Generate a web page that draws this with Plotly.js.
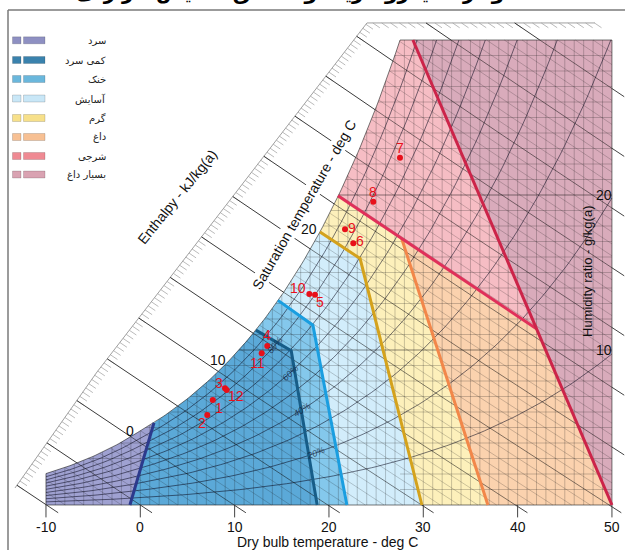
<!DOCTYPE html>
<html><head><meta charset="utf-8">
<script src="https://cdn.plot.ly/plotly-3.0.1.min.js"></script>
<style>html,body{margin:0;padding:0;background:#fff}#chart{width:625px;height:550px}</style>
</head><body><div id="chart"></div>
<script>
// ---------- values ----------
const dryBulbTicks = [-10, 0, 10, 20, 30, 40, 50];
const humidityTicks = [10, 20];
const saturationTempLabels = [0, 10, 20];
const saturationLabelShift = [[-4, 0], [-7, -5], [-10, -14]];
const rhLabelValues = [20, 40, 60, 80];
const rhLabelTemps = [18.6, 17.1, 15.9, 14.3];
const rhLabelAngles = [-22, -33, -43, -50];
const tMin = -10, tMax = 50, wMax = 30;
const atmPressureKPa = 80;               // chart drawn for high altitude
const satTableStartT = -10;               // saturation vapour pressure table, 1 degC steps
const satPressureKPa = [0.2599,0.2839,0.3100,0.3382,0.3687,0.4017,0.4375,0.4761,0.5177,0.5627,
  0.6112,0.6571,0.7060,0.7581,0.8135,0.8725,0.9353,1.0020,1.0729,1.1481,
  1.2280,1.3128,1.4026,1.4979,1.5987,1.7055,1.8185,1.9380,2.0643,2.1978,
  2.3388,2.4877,2.6448,2.8104,2.9851,3.1692,3.3631,3.5673,3.7822,4.0083,
  4.2467,4.4955,4.7578,5.0335,5.3229,5.6267,5.9453,6.2795,6.6298,6.9969,
  7.3814,7.7840,8.2054,8.6463,9.1075,9.5898,10.094,10.620,11.171,11.745,12.344];
const enthalpyScaleT = [-13.28, -4.59, 24.03, 48.2];
const enthalpyScaleW = [1.10, 8.58, 31.1, 31.1];

const zoneNames = ['سرد', 'کمی سرد', 'خنک', 'آسایش', 'گرم', 'داغ', 'شرجی', 'بسیار داغ'];
const zoneFills = ['#9fa1d1', '#5ba9d8', '#84c8ec', '#d2edfb', '#fdf0bb', '#fbd2ae', '#f6bdc4', '#d9abbb'];
const zoneSwatches = ['#8e90c2', '#3a82ad', '#6ab7dc', '#c9e7f7', '#f7e08a', '#f7c093', '#ef8a93', '#d9a3b2'];

// zone boundaries, listed from the saturation / top end down to the bottom
const coldBoundT = [1.45, -1.1],            coldBoundW = [5.3, 0];
const slightlyColdBoundT = [12.25, 16.0, 18.75], slightlyColdBoundW = [11.28, 9.95, 0];
const coolBoundT = [14.6, 18.3, 21.9],      coolBoundW = [13.2, 11.6, 0];
const comfortBoundT = [19.05, 23.3, 29.85], comfortBoundW = [17.62, 15.9, 0];
const warmBoundT = [27.7, 36.85],           warmBoundW = [17.2, 0];
const muggyBoundT = [20.95, 42.0],          muggyBoundW = [19.95, 11.37];
const veryHotBoundT = [28.9, 50],           veryHotBoundW = [30, 0];
const boundaryColors = ['#2c3a8c', '#175d88', '#1a9ee0', '#d4a21c', '#f2874a', '#e0305a', '#cc2449'];

const pointLabels = ['1','2','3','4','5','6','7','8','9','10','11','12'];
const pointT = [7.68, 7.10, 8.98, 13.46, 18.52, 22.58, 27.53, 24.70, 21.70, 17.92, 12.87, 9.16];
const pointW = [6.77, 5.81, 7.53, 10.26, 13.57, 16.88, 22.41, 19.57, 17.79, 13.61, 9.79, 7.42];
const pointLabelDx = [6, -5, -6, 0, 5, 7, 0, 0, 7, -11, -4, 9];
const pointLabelDy = [8, 8, -5, -11, 7, -2, -10, -10, -1, -6, 10, 6];

// ---------- geometry helpers ----------
const PX_T = 9.433, PX_W = 15.5, X0 = 140.3, Y0 = 505, WPX = 625, HPX = 550;
const xr = [(0 - X0) / PX_T, (WPX - X0) / PX_T];
const yr = [(Y0 - HPX) / PX_W, Y0 / PX_W];
function psat(T) {
  let i = Math.floor(T - satTableStartT);
  i = Math.min(Math.max(i, 0), satPressureKPa.length - 2);
  const f = T - satTableStartT - i;
  return Math.exp(Math.log(satPressureKPa[i]) * (1 - f) + Math.log(satPressureKPa[i + 1]) * f);
}
function wRH(T, rh) { const p = rh * psat(T); return 622 * p / (atmPressureKPa - p); }
function wsat(T) { return wRH(T, 1); }
function hOf(T, w) { return 1.006 * T + w * (2501 + 1.86 * T) / 1000; }
function wOnH(h, T) { return (h - 1.006 * T) * 1000 / (2501 + 1.86 * T); }
function bisect(f, a, b) {
  let fa = f(a);
  for (let k = 0; k < 60; k++) { const m = (a + b) / 2, fm = f(m); if ((fm > 0) === (fa > 0)) { a = m; fa = fm; } else b = m; }
  return (a + b) / 2;
}
const tTop = bisect(T => wsat(T) - wMax, tMin, tMax);
function tSatW(w) { return bisect(T => wsat(T) - w, tMin, tTop); }
function tSatH(h) { return bisect(T => hOf(T, wsat(T)) - h, tMin, tTop); }
function satSeg(a, b) {
  const pts = []; const n = Math.max(2, Math.ceil(Math.abs(b - a) / 0.25));
  for (let i = 0; i <= n; i++) { const T = a + (b - a) * i / n; pts.push([T, wsat(T)]); }
  return pts;
}
const zip = (T, W) => T.map((t, i) => [t, W[i]]);

const traces = [];
function addPoly(pts, color) {
  traces.push({type: 'scatter', mode: 'lines', x: pts.map(p => p[0]), y: pts.map(p => p[1]),
    fill: 'toself', fillcolor: color, line: {width: 0, color: color}, hoverinfo: 'skip', showlegend: false});
}
function multiLine(list, color, width) {
  const x = [], y = [];
  list.forEach(pts => { pts.forEach(p => { x.push(p[0]); y.push(p[1]); }); x.push(null); y.push(null); });
  traces.push({type: 'scatter', mode: 'lines', x, y, line: {color, width}, hoverinfo: 'skip', showlegend: false, connectgaps: false});
}

// ---------- zones ----------
const bLeft = [[tMin, wsat(tMin)], [tMin, 0]];
const bCold = zip(coldBoundT, coldBoundW);
const bSC = zip(slightlyColdBoundT, slightlyColdBoundW);
const bCool = zip(coolBoundT, coolBoundW);
const bComf = zip(comfortBoundT, comfortBoundW);
const bWarm = zip(warmBoundT, warmBoundW);
const bMug = zip(muggyBoundT, muggyBoundW);
const bVH = zip(veryHotBoundT, veryHotBoundW);
const bWarmRight = [bMug[0], bWarm[0], bWarm[1]];
function zonePoly(L, R) { return [...R.slice().reverse(), ...satSeg(R[0][0], L[0][0]), ...L]; }
addPoly(zonePoly(bLeft, bCold), zoneFills[0]);
addPoly(zonePoly(bCold, bSC), zoneFills[1]);
addPoly(zonePoly(bSC, bCool), zoneFills[2]);
addPoly(zonePoly(bCool, bComf), zoneFills[3]);
addPoly(zonePoly(bComf, bWarmRight), zoneFills[4]);
addPoly([bWarm[1], bVH[1], bMug[1], bWarm[0]], zoneFills[5]);
addPoly([bMug[0], ...satSeg(bMug[0][0], tTop), bVH[0], bMug[1]], zoneFills[6]);
addPoly([bVH[0], [tMax, wMax], bVH[1]], zoneFills[7]);

// ---------- grid ----------
const grid = [];
for (let T = tMin + 1; T < tMax; T++) grid.push([[T, 0], [T, T < tTop ? wsat(T) : wMax]]);
for (let w = 1; w < wMax; w++) grid.push([[tSatW(w), w], [tMax, w]]);
multiLine(grid, 'rgba(20,20,20,0.33)', 0.7);

function hLine(h) {
  let T0, w0;
  const hLeft = hOf(tMin, wsat(tMin)), hTopv = hOf(tTop, wMax);
  if (h <= hLeft) { T0 = tMin; w0 = wOnH(h, tMin); if (w0 < 0) return null; }
  else if (h <= hTopv) { T0 = tSatH(h); w0 = wsat(T0); }
  else { T0 = (h - wMax * 2.501) / (1.006 + wMax * 0.00186); w0 = wMax; }
  let T1, w1;
  if (h / 1.006 <= tMax) { T1 = h / 1.006; w1 = 0; } else { T1 = tMax; w1 = wOnH(h, tMax); }
  if (w1 > wMax || T0 >= T1) return null;
  const Tm = (T0 + T1) / 2;
  return [[T0, w0], [Tm, wOnH(h, Tm)], [T1, w1]];
}
const hThin = [], hDark = [];
for (let h = -10; h <= 128; h += 2) { const l = hLine(h); if (!l) continue; (h % 10 === 0 ? hDark : hThin).push(l); }
multiLine(hThin, 'rgba(20,20,20,0.30)', 0.7);

// RH curves
const rhCurves = [];
for (let k = 1; k <= 9; k++) {
  const rh = k / 10, pts = [];
  let prev = tMin;
  for (let T = tMin; T <= tMax + 1e-9; T += 0.5) {
    const w = wRH(T, rh);
    if (w > wMax) { const Tc = bisect(t => wRH(t, rh) - wMax, prev, T); pts.push([Tc, wMax]); break; }
    pts.push([T, w]); prev = T;
  }
  rhCurves.push(pts);
}
multiLine(rhCurves, 'rgba(10,10,30,0.55)', 1);
multiLine(hDark, 'rgba(10,10,10,0.5)', 1);
multiLine(humidityTicks.map(w => [[tSatW(w), w], [tMax, w]]), 'rgba(10,10,10,0.35)', 0.8);

// ---------- enthalpy scale ----------
const scalePts = zip(enthalpyScaleT, enthalpyScaleW);
function scalePoint(h) {
  for (let s = 0; s < scalePts.length - 1; s++) {
    const A = scalePts[s], B = scalePts[s + 1];
    const hA = hOf(A[0], A[1]), hB = hOf(B[0], B[1]);
    if ((h - hA) * (h - hB) <= 0) {
      const u = bisect(u => hOf(A[0] + (B[0] - A[0]) * u, A[1] + (B[1] - A[1]) * u) - h, 0, 1);
      return [A[0] + (B[0] - A[0]) * u, A[1] + (B[1] - A[1]) * u];
    }
  }
  return null;
}
const hatches = [], longLines = [], extTicks = [];
for (let h = -10; h <= 130; h++) {
  const p = scalePoint(h); if (!p) continue;
  const T2 = p[0] + 0.75;
  hatches.push([p, [T2, wOnH(h, T2)]]);
  if (h % 10 === 0) { const l = hLine(h); if (l && l[0][0] > p[0]) longLines.push([p, l[0]]); }
}
multiLine(hatches, '#a8a8a8', 0.8);
multiLine([scalePts], '#a0a0a0', 1);
multiLine(longLines, '#3a3a3a', 1);
for (let h = -10; h <= 50; h += 10) { const T0 = h / 1.006; const T1 = (1000 * h + 1250.5) / 1005.07; extTicks.push([[T0, 0], [T1, -0.5]]); }
for (let h = 60; h <= 120; h += 10) extTicks.push([[tMax, wOnH(h, tMax)], [tMax + 1.3, wOnH(h, tMax + 1.3)]]);
dryBulbTicks.forEach(T => extTicks.push([[T, 0], [T, -0.8]]));
multiLine(extTicks, '#444', 1);

// outline and saturation curve
multiLine([satSeg(tMin, tTop), [[tTop, wMax], [tMax, wMax], [tMax, 0], [tMin, 0], [tMin, wsat(tMin)]]], 'rgba(30,30,30,0.6)', 1);

// boundaries
[bCold, bSC, bCool, bComf, bWarm, bMug, bVH].forEach((b, i) => multiLine([b], boundaryColors[i], 3));

// points
traces.push({type: 'scatter', mode: 'markers', x: pointT, y: pointW, marker: {color: '#e8101a', size: 6},
  hoverinfo: 'skip', showlegend: false});

// ---------- text ----------
const LAT = 'Liberation Sans, Arial, sans-serif';
const ann = [];
dryBulbTicks.forEach(T => ann.push({x: T, y: (Y0 - 527) / PX_W, xref: 'x', yref: 'y', text: String(T), showarrow: false,
  xanchor: 'center', yanchor: 'middle', font: {family: LAT, size: 14, color: '#111'}}));
humidityTicks.forEach(w => ann.push({x: tMax, y: w, xref: 'x', yref: 'y', text: String(w), showarrow: false, xanchor: 'right', yanchor: 'middle', xshift: 2,
  font: {family: LAT, size: 14, color: '#111'}}));
saturationTempLabels.forEach((T, i) => ann.push({x: T, y: wsat(T), xref: 'x', yref: 'y', text: String(T), showarrow: false,
  xanchor: 'right', yanchor: 'middle', xshift: saturationLabelShift[i][0], yshift: saturationLabelShift[i][1],
  font: {family: LAT, size: 14, color: '#111'}}));
rhLabelValues.forEach((v, i) => ann.push({x: rhLabelTemps[i], y: wRH(rhLabelTemps[i], v / 100), xref: 'x', yref: 'y', text: v + '%',
  showarrow: false, xanchor: 'center', yanchor: 'middle', textangle: rhLabelAngles[i],
  font: {family: LAT, size: 9, color: 'rgba(20,30,60,0.75)', style: 'italic'}}));
pointLabels.forEach((t, i) => ann.push({x: pointT[i], y: pointW[i], xref: 'x', yref: 'y', text: t, showarrow: false,
  xanchor: 'center', yanchor: 'middle', xshift: pointLabelDx[i], yshift: -pointLabelDy[i], font: {family: LAT, size: 14, color: '#e8101a'}}));
const px = v => v / WPX, py = v => 1 - v / HPX;
function label(x, y, text, size, angle, bg) {
  const a = {x: px(x), y: py(y), xref: 'paper', yref: 'paper', xanchor: 'center', yanchor: 'middle', text, showarrow: false,
    textangle: angle, font: {family: LAT, size, color: '#111'}};
  if (bg) { a.bgcolor = '#ffffff'; a.borderpad = 0; }
  ann.push(a);
}
label(327, 542, 'Dry bulb temperature - deg C', 14, 0, false);
label(587, 272, 'Humidity ratio - g/kg(a)', 13, -90, false);
label(304, 205, 'Saturation temperature - deg C', 14, -60, true);
label(177, 197, 'Enthalpy - kJ/kg(a)', 14, -51, true);
ann.push({x: px(300), y: py(6), xref: 'paper', yref: 'paper', xanchor: 'center', yanchor: 'bottom', text: '<b>نمودار سایکرومتریک و مناطق آسایش حرارتی</b>',
  showarrow: false, font: {family: 'DejaVu Sans, sans-serif', size: 20, color: '#000'}});

// legend
const shapes = [];
const rowY = [40.3, 60, 79, 98.5, 118, 137, 156, 174.5];
zoneNames.forEach((n, i) => {
  const yc = rowY[i];
  shapes.push({type: 'rect', xref: 'paper', yref: 'paper', x0: px(12.5), x1: px(21), y0: py(yc + 3.5), y1: py(yc - 3.5),
    fillcolor: zoneSwatches[i], line: {color: 'rgba(0,0,0,0.25)', width: 0.6}});
  shapes.push({type: 'rect', xref: 'paper', yref: 'paper', x0: px(23.5), x1: px(45), y0: py(yc + 3.5), y1: py(yc - 3.5),
    fillcolor: zoneSwatches[i], line: {color: 'rgba(0,0,0,0.25)', width: 0.6}});
  ann.push({x: px(108), y: py(yc), xref: 'paper', yref: 'paper', xanchor: 'right', yanchor: 'middle', text: n, showarrow: false,
    font: {family: 'DejaVu Sans, sans-serif', size: 10, color: '#222'}});
});
shapes.push({type: 'line', xref: 'paper', yref: 'paper', x0: px(8), x1: px(625), y0: py(10), y1: py(10), line: {color: '#7a7a7a', width: 1.5}});
shapes.push({type: 'line', xref: 'paper', yref: 'paper', x0: px(8), x1: px(8), y0: py(10), y1: py(550), line: {color: '#7a7a7a', width: 1.5}});

const layout = {
  width: WPX, height: HPX, margin: {l: 0, r: 0, t: 0, b: 0},
  paper_bgcolor: '#fff', plot_bgcolor: '#fff', showlegend: false,
  xaxis: {range: xr, visible: false, fixedrange: true},
  yaxis: {range: yr, visible: false, fixedrange: true},
  annotations: ann, shapes: shapes
};
Plotly.newPlot('chart', traces, layout, {staticPlot: true, displayModeBar: false});
</script>
</body></html>
